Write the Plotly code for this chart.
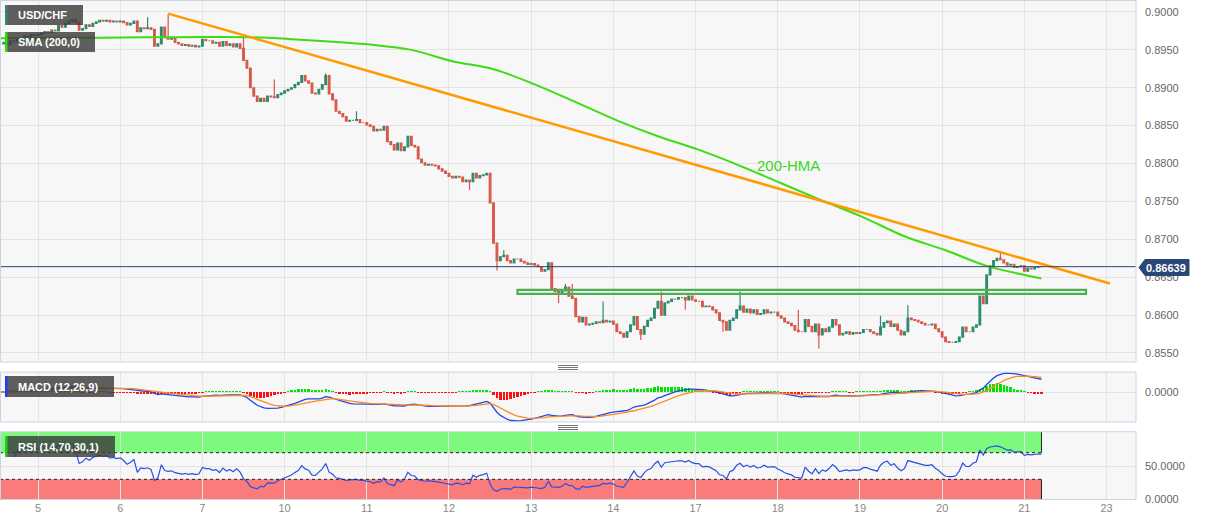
import plotly.graph_objects as go
import pandas as pd

# ---------------- data (hourly closes) ----------------
day_names = ["04", "05", "06", "07", "10", "11", "12", "13", "14", "17", "18", "19", "20", "21"]
day_offsets = [-24, 0, 24, 48, 72, 96, 120, 144, 168, 192, 216, 240, 264, 288]   # trading-hour index of each day start
day_first_hour = [13, 0, 0, 0, 0, 0, 0, 0, 0, 0, 0, 0, 0, 0]

jul04 = [0.8958, 0.8960, 0.8957, 0.8962, 0.8961, 0.8964, 0.8966, 0.8968, 0.8967, 0.8970, 0.8969]
jul05 = [0.8970, 0.8972, 0.8974, 0.8973, 0.8976, 0.8975, 0.8982, 0.8980, 0.8985, 0.8988, 0.8990, 0.8986,
         0.8976, 0.8978, 0.8983, 0.8981, 0.8985, 0.8987, 0.8989, 0.8988, 0.8989, 0.8987, 0.8988, 0.8987]
jul06 = [0.8988, 0.8986, 0.8983, 0.8985, 0.8988, 0.8974, 0.8979, 0.8978, 0.8979, 0.8977, 0.8955, 0.8958,
         0.8980, 0.8966, 0.8964, 0.8965, 0.8960, 0.8958, 0.8956, 0.8957, 0.8955, 0.8956, 0.8954, 0.8955]
jul07 = [0.8964, 0.8962, 0.8962, 0.8959, 0.8960, 0.8955, 0.8961, 0.8956, 0.8958, 0.8954, 0.8958, 0.8952,
         0.8936, 0.8926, 0.8900, 0.8889, 0.8882, 0.8886, 0.8882, 0.8889, 0.8888, 0.8887, 0.8891, 0.8893]
jul10 = [0.8896, 0.8898, 0.8900, 0.8904, 0.8907, 0.8916, 0.8909, 0.8906, 0.8893, 0.8892, 0.8898, 0.8904,
         0.8916, 0.8892, 0.8884, 0.8869, 0.8866, 0.8862, 0.8856, 0.8857, 0.8857, 0.8858, 0.8854, 0.8854]
jul11 = [0.8851, 0.8849, 0.8843, 0.8845, 0.8844, 0.8849, 0.8829, 0.8825, 0.8818, 0.8827, 0.8817, 0.8822,
         0.8836, 0.8824, 0.8822, 0.8806, 0.8801, 0.8798, 0.8799, 0.8798, 0.8797, 0.8793, 0.8790, 0.8787]
jul12 = [0.8783, 0.8781, 0.8783, 0.8782, 0.8776, 0.8778, 0.8776, 0.8787, 0.8781, 0.8784, 0.8785, 0.8787,
         0.8748, 0.8695, 0.8672, 0.8677, 0.8679, 0.8672, 0.8669, 0.8674, 0.8674, 0.8671, 0.8669, 0.8667]
jul13 = [0.8668, 0.8666, 0.8664, 0.8658, 0.8660, 0.8669, 0.8635, 0.8631, 0.8630, 0.8632, 0.8637, 0.8625,
         0.8622, 0.8598, 0.8591, 0.8597, 0.8587, 0.8588, 0.8589, 0.8591, 0.8590, 0.8593, 0.8591, 0.8592]
jul14 = [0.8588, 0.8578, 0.8576, 0.8571, 0.8578, 0.8587, 0.8598, 0.8581, 0.8575, 0.8585, 0.8593, 0.8596,
         0.8609, 0.8618, 0.8600, 0.8616, 0.8618, 0.8621, 0.8621, 0.8623, 0.8623, 0.8620, 0.8625, 0.8620]
jul17 = [0.8618, 0.8618, 0.8611, 0.8612, 0.8611, 0.8607, 0.8603, 0.8593, 0.8591, 0.8580, 0.8593, 0.8596,
         0.8607, 0.8612, 0.8604, 0.8608, 0.8603, 0.8607, 0.8601, 0.8602, 0.8607, 0.8603, 0.8604, 0.8604]
jul18 = [0.8599, 0.8596, 0.8591, 0.8589, 0.8586, 0.8580, 0.8578, 0.8578, 0.8594, 0.8585, 0.8578, 0.8588,
         0.8574, 0.8582, 0.8578, 0.8584, 0.8594, 0.8587, 0.8574, 0.8576, 0.8578, 0.8575, 0.8577, 0.8576]
jul19 = [0.8577, 0.8581, 0.8581, 0.8578, 0.8576, 0.8574, 0.8584, 0.8590, 0.8592, 0.8585, 0.8588, 0.8580,
         0.8574, 0.8578, 0.8596, 0.8594, 0.8593, 0.8591, 0.8589, 0.8587, 0.8587, 0.8588, 0.8582, 0.8578]
jul20 = [0.8571, 0.8565, 0.8564, 0.8564, 0.8565, 0.8571, 0.8584, 0.8578, 0.8578, 0.8584, 0.8587, 0.8625,
         0.8615, 0.8653, 0.8665, 0.8672, 0.8675, 0.8673, 0.8669, 0.8666, 0.8667, 0.8663, 0.8664, 0.8665]
jul21 = [0.8658, 0.8662, 0.8661, 0.8663, 0.8664, 0.86639]
day_closes = [jul04, jul05, jul06, jul07, jul10, jul11, jul12, jul13, jul14, jul17, jul18, jul19, jul20, jul21]
first_open = 0.8958

# notable wicks  "day-hour": price
spike_high = {"06-08": 0.8993, "06-14": 0.8997, "07-12": 0.8970, "07-21": 0.8911, "10-12": 0.8919,
              "10-21": 0.8869, "12-16": 0.8686, "13-10": 0.8641, "13-12": 0.8641, "13-21": 0.8618,
              "14-14": 0.8631, "17-13": 0.8631, "18-06": 0.8607, "19-06": 0.8599, "19-14": 0.8613,
              "20-17": 0.8684}
spike_low = {"12-06": 0.8765, "12-14": 0.8659, "13-08": 0.8616, "14-08": 0.8567, "14-21": 0.8607,
             "17-08": 0.8578, "18-12": 0.8556}

# 200-hour SMA (hour index, value)
sma_u = [-11, 1, 13, 25, 37, 49, 61, 73, 85, 97, 109, 121, 133, 145, 157, 169, 181, 193, 205, 217,
         229, 241, 253, 265, 277, 289, 293]
sma_vals = [0.89654, 0.89658, 0.89660, 0.89663, 0.89667, 0.89670, 0.89668, 0.89645, 0.89612, 0.89570,
            0.89500, 0.89350, 0.89245, 0.89045, 0.88810, 0.88570, 0.88360, 0.88180, 0.87970, 0.87740,
            0.87510, 0.87290, 0.87040, 0.86855, 0.86650, 0.86520, 0.86482]

trend_u = [38, 313]
trend_price = [0.89978, 0.86416]
zone_u = [140, 306]
zone_price = [0.86280, 0.86333]
last_price = 0.86639

tick_u = [0, 24, 48, 72, 96, 120, 144, 168, 192, 216, 240, 264, 288, 312]
tick_text = ["5", "6", "7", "10", "11", "12", "13", "14", "17", "18", "19", "20", "21", "23"]

# ---------------- build candles ----------------
u, c, keys = [], [], []
for off, h0, vals, name in zip(day_offsets, day_first_hour, day_closes, day_names):
    for i, v in enumerate(vals):
        u.append(off + h0 + i)
        c.append(v)
        keys.append(f"{name}-{h0 + i:02d}")
o = [first_open] + c[:-1]
hi = [max(a, b) for a, b in zip(o, c)]
lo = [min(a, b) for a, b in zip(o, c)]
for i, k in enumerate(keys):
    if k in spike_high:
        hi[i] = max(hi[i], spike_high[k])
    if k in spike_low:
        lo[i] = min(lo[i], spike_low[k])

cs = pd.Series(c)
macd = cs.ewm(span=12, adjust=False).mean() - cs.ewm(span=26, adjust=False).mean()
signal = macd.ewm(span=9, adjust=False).mean()
hist = macd - signal
delta = cs.diff()
gain = delta.clip(lower=0).ewm(alpha=1 / 14, adjust=True, min_periods=4).mean()
loss = (-delta.clip(upper=0)).ewm(alpha=1 / 14, adjust=True, min_periods=4).mean()
rsi = 100 - 100 / (1 + gain / loss)

# ---------------- styling helpers ----------------
W_PLOT, H_PLOT = 1136.0, 500.0
def px(x):
    return x / W_PLOT
def py(y):
    return 1 - y / H_PLOT

UP, DN = "#2d8b6d", "#d9574a"
GRID = "#e4e4e4"
BORDER = "#cdd3e2"
FONT = "Liberation Sans, Arial, sans-serif"
XR = [-11.1, 320.6]

fig = go.Figure()
fig.add_trace(go.Candlestick(
    x=u, open=o, high=hi, low=lo, close=c, xaxis="x", yaxis="y",
    increasing=dict(line=dict(color=UP, width=1.2), fillcolor=UP),
    decreasing=dict(line=dict(color=DN, width=1.2), fillcolor=DN),
    whiskerwidth=0, showlegend=False, hoverinfo="skip"))
fig.add_trace(go.Scatter(x=sma_u, y=sma_vals, mode="lines", xaxis="x", yaxis="y",
                         line=dict(color="#3ddc14", width=2, shape="spline"), hoverinfo="skip"))
fig.add_trace(go.Scatter(x=trend_u, y=trend_price, mode="lines", xaxis="x", yaxis="y",
                         line=dict(color="#ff9a00", width=2.5), hoverinfo="skip"))

# MACD
fig.add_trace(go.Bar(x=u, y=hist, xaxis="x2", yaxis="y2", width=0.7,
                     marker=dict(color=["#00e400" if v >= 0 else "#ff1010" for v in hist], line=dict(width=0)),
                     hoverinfo="skip"))
fig.add_trace(go.Scatter(x=u, y=macd, mode="lines", xaxis="x2", yaxis="y2",
                         line=dict(color="#2446e8", width=1.3), hoverinfo="skip"))
fig.add_trace(go.Scatter(x=u, y=signal, mode="lines", xaxis="x2", yaxis="y2",
                         line=dict(color="#ff8a1c", width=1.3), hoverinfo="skip"))
mx = max(macd.max(), signal.max())
mn = min(macd.min(), signal.min())
span = max(mx / 0.4, -mn / 0.6) * 1.04
macd_range = [-0.6 * span, 0.4 * span]

# RSI
fig.add_trace(go.Scatter(x=u, y=rsi, mode="lines", xaxis="x3", yaxis="y3",
                         line=dict(color="#2b4fe0", width=1.2), hoverinfo="skip"))

axis_common = dict(range=XR, tickvals=tick_u, showgrid=True, gridcolor=GRID, gridwidth=1,
                   zeroline=False, showline=False, fixedrange=True)
fig.update_layout(
    width=1207, height=526, margin=dict(l=0, r=71, t=0, b=26),
    paper_bgcolor="white", plot_bgcolor="#f7f7f7", showlegend=False,
    font=dict(family=FONT, size=11, color="#666666"),
    bargap=0,
    xaxis=dict(domain=[0, 1], anchor="y", showticklabels=False, rangeslider=dict(visible=False), **axis_common),
    xaxis2=dict(domain=[0, 1], anchor="y2", showticklabels=False, **axis_common),
    xaxis3=dict(domain=[0, 1], anchor="y3", showticklabels=True, ticktext=tick_text,
                tickfont=dict(family=FONT, size=11, color="#888888"), **axis_common),
    yaxis=dict(domain=[py(362), 1], range=[0.85381, 0.90158], side="right",
               tickvals=[0.855 + 0.005 * i for i in range(10)], tickformat=".4f",
               showgrid=True, gridcolor=GRID, zeroline=False, ticklabelstandoff=8, fixedrange=True,
               tickfont=dict(family=FONT, size=11, color="#666666")),
    yaxis2=dict(domain=[py(422), py(372)], range=macd_range, side="right", anchor="x2",
                tickvals=[0], ticktext=["0.0000"], showgrid=True, gridcolor=GRID, zeroline=False,
                ticklabelstandoff=8, fixedrange=True, tickfont=dict(family=FONT, size=11, color="#666666")),
    yaxis3=dict(domain=[0, py(431.7)], range=[-1, 101.5], side="right", anchor="x3",
                tickvals=[0, 50], ticktext=["0.0000", "50.0000"], showgrid=True, gridcolor=GRID,
                zeroline=False, ticklabelstandoff=8, fixedrange=True,
                tickfont=dict(family=FONT, size=11, color="#666666")),
)

shapes = []
# RSI bands
last_u = u[-1]
shapes.append(dict(type="rect", xref="x3", yref="y3", x0=XR[0], x1=last_u, y0=70, y1=101.5,
                   fillcolor="#7dfa7d", line=dict(width=0), layer="below"))
shapes.append(dict(type="rect", xref="x3", yref="y3", x0=XR[0], x1=last_u, y0=-1, y1=30,
                   fillcolor="#fb7b7b", line=dict(width=0), layer="below"))
for lvl in (70, 30):
    shapes.append(dict(type="line", xref="x3", yref="y3", x0=XR[0], x1=last_u, y0=lvl, y1=lvl,
                       line=dict(color="#222222", width=1, dash="dot")))
for y0, y1 in ((70, 101.5), (-1, 30)):
    shapes.append(dict(type="line", xref="x3", yref="y3", x0=last_u, x1=last_u, y0=y0, y1=y1,
                       line=dict(color="#222222", width=1)))
    shapes.append(dict(type="line", xref="paper", yref="y3", x0=px(0.5), x1=px(0.5), y0=y0, y1=y1,
                       line=dict(color="#222222", width=1)))

# support zone rectangle
shapes.append(dict(type="rect", xref="x", yref="y", x0=zone_u[0], x1=zone_u[1],
                   y0=zone_price[0], y1=zone_price[1], line=dict(color="#4caf50", width=2.2),
                   fillcolor="rgba(0,0,0,0)"))
# last price line
shapes.append(dict(type="line", xref="paper", yref="y", x0=0, x1=1, y0=last_price, y1=last_price,
                   line=dict(color="#284677", width=1)))

# panel borders
for top, bot in ((0.5, 362), (372, 422), (431.7, 499.5)):
    shapes.append(dict(type="rect", xref="paper", yref="paper", x0=px(0.5), x1=px(1136), y0=py(bot), y1=py(top),
                       line=dict(color=BORDER, width=1), fillcolor="rgba(0,0,0,0)"))
# drag handles
for yy in (365.5, 367.5, 369.5, 425.5, 427.5, 429.5):
    shapes.append(dict(type="line", xref="paper", yref="paper", x0=px(558), x1=px(578), y0=py(yy), y1=py(yy),
                       line=dict(color="#777777", width=1)))

# legend boxes
boxes = [(5, 83, 5, 25, "#2d8b6d", "USD/CHF"), (5, 95, 32, 52, "#33dd00", "SMA (200,0)"),
         (5, 114, 376, 397, "#1a3cff", "MACD (12,26,9)"), (5, 115, 436, 457, "#22cc22", "RSI (14,70,30,1)")]
annotations = []
for x0, x1, y0, y1, col, txt in boxes:
    shapes.append(dict(type="rect", xref="paper", yref="paper", x0=px(x0), x1=px(x1), y0=py(y1), y1=py(y0),
                       fillcolor="rgba(60,60,60,0.82)", line=dict(width=0)))
    shapes.append(dict(type="rect", xref="paper", yref="paper", x0=px(x0), x1=px(x0 + 2.5), y0=py(y1), y1=py(y0),
                       fillcolor=col, line=dict(width=0)))
    annotations.append(dict(xref="paper", yref="paper", x=px(16), y=py((y0 + y1) / 2), text=txt,
                            showarrow=False, xanchor="left", yanchor="middle",
                            font=dict(family=FONT, size=11, color="white", weight="bold")))

# last price tag
pts = [(1139, 267.5), (1145, 259.5), (1189, 259.5), (1189, 275.5), (1145, 275.5)]
path = "M " + " L ".join(f"{px(a):.5f},{py(b):.5f}" for a, b in pts) + " Z"
shapes.append(dict(type="path", xref="paper", yref="paper", path=path, fillcolor="#284677",
                   line=dict(color="#284677", width=1)))
annotations.append(dict(xref="paper", yref="paper", x=px(1166), y=py(267.5), text=f"{last_price:.5f}",
                        showarrow=False, xanchor="center", yanchor="middle",
                        font=dict(family=FONT, size=11, color="white", weight="bold")))
# 200-HMA label
annotations.append(dict(xref="paper", yref="paper", x=px(788), y=py(165), text="200-HMA", showarrow=False,
                        xanchor="center", yanchor="middle", font=dict(family=FONT, size=15, color="#3fd424")))

fig.update_layout(shapes=shapes, annotations=annotations)
fig.write_html("out.html", config={"displayModeBar": False},
               post_script="document.body.style.margin='0';document.body.style.overflow='hidden';")
